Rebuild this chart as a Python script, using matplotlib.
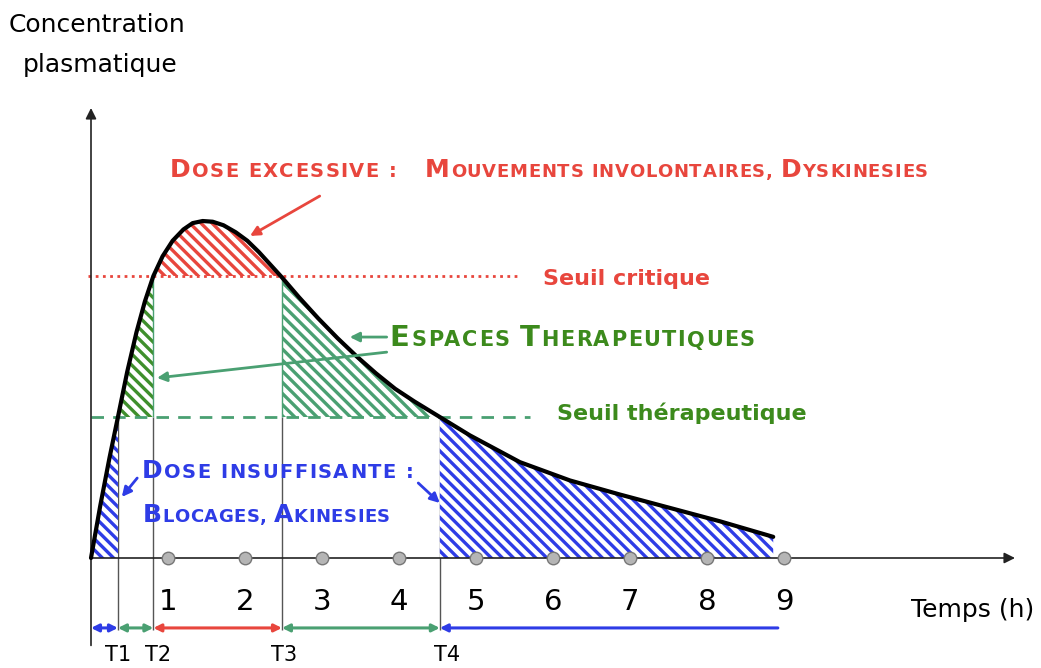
import numpy as np
import matplotlib
matplotlib.use('Agg')
import matplotlib.pyplot as plt
import matplotlib.transforms as mtransforms

# curve (time in hours, concentration in a.u.)
hours = [0.0, 0.12, 0.24, 0.35, 0.47, 0.59, 0.70, 0.81, 0.93, 1.06, 1.20,
         1.32, 1.45, 1.58, 1.72, 1.88, 2.03, 2.18, 2.33, 2.48, 2.70, 2.95,
         3.20, 3.45, 3.70, 3.95, 4.20, 4.53, 4.92, 5.57, 6.22, 6.87, 7.52,
         8.17, 8.86]
conc = [0.0, 0.37, 0.71, 1.00, 1.32, 1.60, 1.82, 2.00, 2.14, 2.25, 2.33,
        2.375, 2.39, 2.385, 2.36, 2.31, 2.25, 2.17, 2.08, 1.99, 1.85, 1.70,
        1.56, 1.43, 1.31, 1.20, 1.11, 1.00, 0.87, 0.68, 0.55, 0.45, 0.355,
        0.26, 0.15]

seuil_therapeutique = 1.0
seuil_critique = 2.0
t_marks = [0.35, 0.81, 2.48, 4.53]
t_names = ['T1', 'T2', 'T3', 'T4']
tick_hours = [1, 2, 3, 4, 5, 6, 7, 8, 9]
t_end = 8.92

RED = '#e8463d'
GREEN = '#4aa072'
GREEN_D = '#3f8f2c'
GREEN_TXT = '#3c8a1c'
BLUE = '#2e3ce6'
GREY = '#555555'

plt.rcParams['hatch.linewidth'] = 2.4

fig = plt.figure(figsize=(10.41, 6.68), dpi=100)
ax = fig.add_axes([0, 0, 1, 1])
# 77 px per hour, 141 px per unit of concentration
ax.set_xlim(-91 / 77, 950 / 77)
ax.set_ylim(-110 / 141, 558 / 141)
ax.axis('off')
renderer = fig.canvas.get_renderer()

t = np.array(hours)
c = np.array(conc)
T1, T2, T3, T4 = t_marks
ther, crit = seuil_therapeutique, seuil_critique

hatch = '\\\\\\'
ax.fill_between(t, c, 0, where=t <= T1, facecolor='white', edgecolor=BLUE,
                hatch=hatch, lw=0, zorder=2)
ax.fill_between(t, c, 0, where=t >= T4, facecolor='white', edgecolor=BLUE,
                hatch=hatch, lw=0, zorder=2)
ax.fill_between(t, c, ther, where=(t >= T1) & (t <= T2), facecolor='white',
                edgecolor=GREEN_D, hatch=hatch, lw=0, zorder=2)
ax.fill_between(t, c, crit, where=(t >= T2) & (t <= T3), facecolor='white',
                edgecolor=RED, hatch=hatch, lw=0, zorder=2)
ax.fill_between(t, c, ther, where=(t >= T3) & (t <= T4), facecolor='white',
                edgecolor=GREEN, hatch=hatch, lw=0, zorder=2)

# thresholds
ax.plot([-0.04, 5.57], [crit, crit], color=RED, lw=2,
        linestyle=(0, (1, 1.6)), zorder=3)
ax.plot([0, 5.70], [ther, ther], color=GREEN, lw=2,
        linestyle=(0, (4.5, 3.3)), zorder=3)

# vertical time marks
ax.vlines(t_marks, -0.51, ther, color=GREY, lw=1, zorder=1)
ax.vlines([T2, T3], ther, crit, color=GREEN, lw=1, zorder=3)

# curve
ax.plot(t, c, color='black', lw=3, solid_capstyle='round',
        solid_joinstyle='round', zorder=5)

# axes with arrows
axis_props = dict(arrowstyle='-|>', color='#222222', lw=1.2,
                  mutation_scale=16, shrinkA=0, shrinkB=0)
ax.annotate('', xy=(0, 450 / 141), xytext=(0, -0.62), arrowprops=axis_props)
ax.annotate('', xy=(12.0, 0), xytext=(0, 0), arrowprops=axis_props)

ax.plot(tick_hours, np.zeros(len(tick_hours)), 'o', ms=9, mfc='#b5b5b5',
        mec='#777777', mew=1, zorder=6)
for h in tick_hours:
    ax.text(h, -0.369, str(h), ha='center', va='baseline', fontsize=21)

# intervals under the axis
y_arr = -0.496
spans = [(0, T1, BLUE, '<|-|>'), (T1, T2, GREEN, '<|-|>'),
         (T2, T3, RED, '<|-|>'), (T3, T4, GREEN, '<|-|>'),
         (T4, t_end, BLUE, '<|-')]
for a, b, col, style in spans:
    ax.annotate('', xy=(b, y_arr), xytext=(a, y_arr),
                arrowprops=dict(arrowstyle=style, color=col, lw=2.2,
                                mutation_scale=11, shrinkA=0, shrinkB=0))
for x, name, dx in zip(t_marks, t_names, [0.0, 0.06, 0.03, 0.1]):
    ax.text(x + dx, -0.69, name, ha='center', va='center', fontsize=15)

# axis titles
ax.text(0.08, 526 / 141, 'Concentration', ha='center', va='baseline',
        fontsize=18)
ax.text(0.12, 486 / 141, 'plasmatique', ha='center', va='baseline',
        fontsize=18)
ax.text(11.45, -59 / 141, 'Temps (h)', ha='center', va='baseline',
        fontsize=18)

ax.text(5.87, 1.98, 'Seuil critique', ha='left', va='center', color=RED,
        fontsize=16, fontweight='bold')
ax.text(6.05, 1.03, 'Seuil thérapeutique', ha='left', va='center',
        color=GREEN_TXT, fontsize=16, fontweight='bold')


def small_caps(x, y, s, color, big=18, small=13, gap=1.0):
    tr = ax.transData
    for ch in s:
        size = big if ch.isupper() else small
        txt = ax.text(x, y, ch.upper(), transform=tr, fontsize=size,
                      color=color, fontweight='bold', va='baseline',
                      ha='left')
        w = txt.get_window_extent(renderer).width
        tr = mtransforms.offset_copy(txt.get_transform(), fig=fig,
                                     x=w + gap, units='dots')


small_caps(1.026, 2.70, 'Dose excessive :', RED, small=14, gap=1.4)
small_caps(4.34, 2.70, 'Mouvements involontaires, Dyskinesies', RED,
           gap=0.8)
small_caps(3.88, 1.50, 'Espaces Therapeutiques', GREEN_TXT, big=21,
           small=15, gap=1.5)
small_caps(0.66, 0.567, 'Dose insuffisante :', BLUE, small=14, gap=1.5)
small_caps(0.675, 0.255, 'Blocages, Akinesies', BLUE, gap=0.5)


# annotation arrows
def arrow(tail, head, col):
    ax.annotate('', xy=head, xytext=tail,
                arrowprops=dict(arrowstyle='-|>', color=col, lw=2,
                                mutation_scale=14, shrinkA=0, shrinkB=0),
                zorder=7)


arrow((2.97, 2.567), (2.065, 2.284), RED)
arrow((3.84, 1.567), (3.36, 1.567), GREEN)
arrow((3.84, 1.46), (0.857, 1.277), GREEN)
arrow((0.60, 0.567), (0.40, 0.433), BLUE)
arrow((4.25, 0.532), (4.53, 0.39), BLUE)

fig.savefig('out.png', dpi=100)
